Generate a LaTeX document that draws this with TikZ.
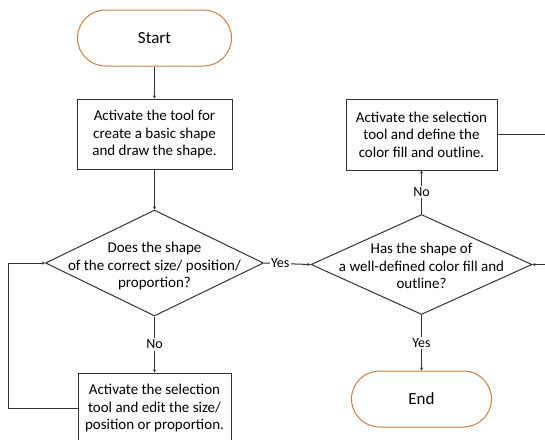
\documentclass[tikz,border=0pt]{standalone}
\usepackage{fontspec}
\setmainfont{Carlito}
\usetikzlibrary{arrows.meta,shapes.geometric}
\definecolor{pillc}{RGB}{201,126,70}
\definecolor{linec}{RGB}{50,50,50}
\begin{document}
\begin{tikzpicture}[x=1pt,y=-1pt,
  every node/.style={font=\fontsize{15}{17.5}\selectfont, text=black},
  pill/.style={draw=pillc, line width=1pt, rounded corners=28pt, minimum width=154pt, minimum height=56pt, font=\fontsize{17}{20}\selectfont},
  procbox/.style={draw=linec, line width=1pt, minimum width=155pt, minimum height=70pt, align=center, inner sep=0pt},
  dia/.style={draw=linec, line width=1pt, diamond, minimum width=218pt, minimum height=106pt, inner sep=0pt},
  conn/.style={draw=linec, line width=1pt, -{Stealth[length=3pt,width=3pt]}},
  lab/.style={fill=white, inner sep=1.5pt, font=\fontsize{14}{16}\selectfont}]
\clip (0,0) rectangle (545,439);
\node[pill] (start) at (154.5,38) {Start};
\node[procbox] (b1) at (154.5,134) {Activate the tool for\\create a basic shape\\and draw the shape.};
\node[dia] (d1) at (154.5,263) {};
\node[align=center] (d1t) at (154.5,266) {Does the shape\\of the correct size/ position/\\proportion?};
\node[procbox, minimum width=153pt] (b2) at (154.5,408) {Activate the selection\\tool and edit the size/\\position or proportion.};
\node[procbox, minimum width=151pt, minimum height=71pt] (b3) at (421.5,134.5) {Activate the selection\\tool and define the\\color fill and outline.};
\node[dia, minimum width=221pt, minimum height=100pt] (d2) at (421.5,264.5) {};
\node[align=center] (d2t) at (421.5,266) {Has the shape of\\a well-defined color fill and\\outline?};
\node[pill, minimum width=140pt] (end) at (421.5,399) {End};
\coordinate (lc) at (8,263);
\coordinate (rc) at (552,134.5);
\draw[conn] (start) -- (b1);
\draw[conn] (b1) -- (d1.north);
\draw[conn] (d1.south) -- node[lab]{No} (b2.north);
\draw[conn] (b2.west) -| (lc) -- (d1.west);
\draw[conn] (d1.east) -- node[lab, pos=0.35]{Yes} (d2.west);
\draw[conn] (d2.south) -- node[lab]{Yes} (end.north);
\draw[conn] (d2.north) -- node[lab]{No} (b3.south);
\draw[conn] (b3.east) -- (rc) |- (d2.east);
\end{tikzpicture}
\end{document}
